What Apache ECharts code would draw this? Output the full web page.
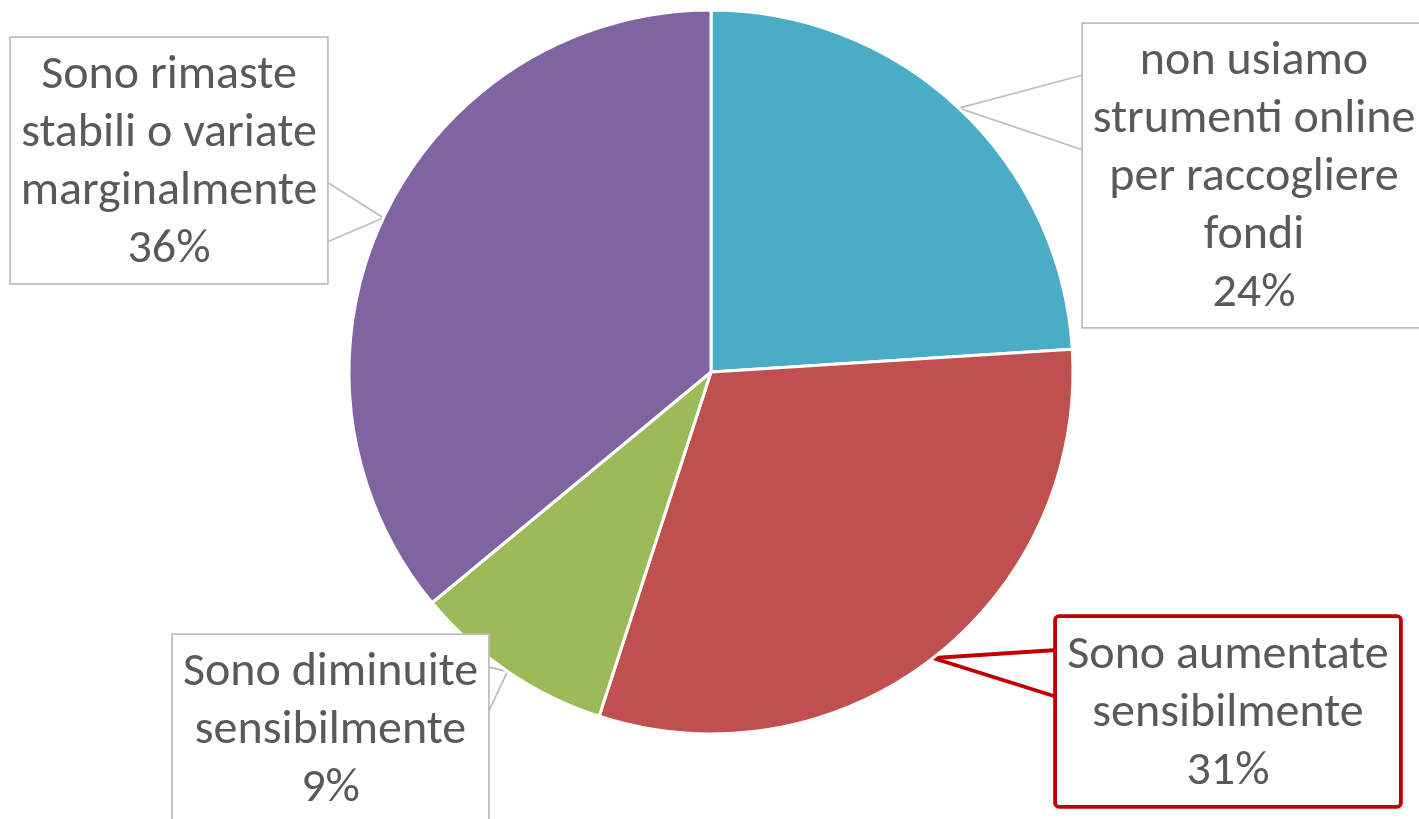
<!DOCTYPE html>
<html><head><meta charset="utf-8">
<script src="https://cdn.jsdelivr.net/npm/echarts@6/dist/echarts.min.js"></script>
<style>html,body{margin:0;padding:0;background:#fff}#c{width:1419px;height:819px}</style>
</head><body><div id="c"></div>
<script>
const categories = [
  'non usiamo\nstrumenti online\nper raccogliere\nfondi',
  'Sono aumentate\nsensibilmente',
  'Sono diminuite\nsensibilmente',
  'Sono rimaste\nstabili o variate\nmarginalmente'
];
const values = [24, 31, 9, 36];
const colors = ['#4BACC6', '#C0504D', '#9BBB59', '#8064A2'];

// callout box geometry (layout only)
const callouts = [
  {x: 1083, y: 24,  w: 342, side: 'left',  b1: 51,  b2: 126, border: '#BFBFBF', bw: 1.8},
  {x: 1057, y: 618, w: 342, side: 'left',  b1: 32,  b2: 79,  border: '#C00000', bw: 3.8},
  {x: 173,  y: 635, w: 315, side: 'right', b1: 32,  b2: 78,  border: '#BFBFBF', bw: 1.8},
  {x: 11,   y: 38,  w: 316, side: 'right', b1: 144, b2: 204, border: '#BFBFBF', bw: 1.8}
];
const PADH = 4;

const chart = echarts.init(document.getElementById('c'), null, {renderer: 'canvas'});
const data = categories.map((name, i) => ({
  name: name,
  value: values[i],
  itemStyle: {color: colors[i]},
  label: {
    borderColor: callouts[i].border,
    borderWidth: callouts[i].bw,
    borderRadius: callouts[i].bw > 2 ? 2 : 0,
    width: callouts[i].w - 2 * PADH
  },
  labelLine: {lineStyle: {color: callouts[i].border, width: callouts[i].bw}}
}));

chart.setOption({
  animation: false,
  backgroundColor: '#fff',
  series: [{
    type: 'pie',
    center: [711, 372],
    radius: 362,
    startAngle: 90,
    clockwise: true,
    avoidLabelOverlap: false,
    itemStyle: {borderColor: '#fff', borderWidth: 3},
    label: {
      show: true,
      position: 'outside',
      formatter: p => p.name + '\n' + Math.round(p.percent) + '%',
      fontFamily: '"Liberation Sans Narrow", "Carlito", "Liberation Sans", sans-serif',
      fontSize: 48,
      lineHeight: 58,
      color: '#595959',
      align: 'center',
      backgroundColor: '#fff',
      padding: [9, PADH, 4, PADH]
    },
    labelLine: {show: true, length: 20, length2: 20, smooth: false},
    labelLayout: function (params) {
      const c = callouts[params.dataIndex];
      const tip = params.labelLinePoints ? params.labelLinePoints[0] : [c.x, c.y];
      const ex = c.side === 'left' ? c.x : c.x + c.w;
      return {
        x: c.x + c.w / 2,
        y: c.y,
        align: 'center',
        verticalAlign: 'top',
        hideOverlap: false,
        labelLinePoints: [[ex, c.y + c.b1], tip, [ex, c.y + c.b2]]
      };
    },
    data: data
  }]
});
</script></body></html>
